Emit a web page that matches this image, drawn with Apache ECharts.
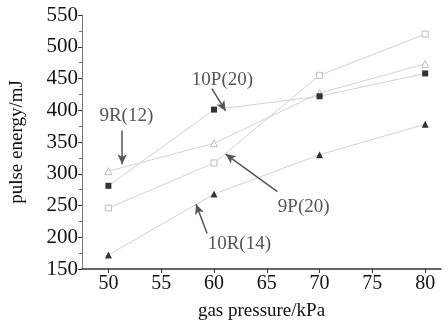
<!DOCTYPE html>
<html lang="en">
<head>
    <meta charset="UTF-8">
    <title>pulse energy vs gas pressure</title>
</head>
<body style="margin:0">
    <div id="main" style="width: 448px;height:326px;"></div>

    <script src="https://cdn.jsdelivr.net/npm/echarts@6/dist/echarts.min.js"></script>
    <script>
        const chart = echarts.init(document.getElementById('main'));

        const pressure = [50, 60, 70, 80];
        const xTicks = [50, 55, 60, 65, 70, 75, 80];
        // pulse energy (mJ) per line
        const r9_12 = [304, 348, 427, 473];
        const p10_20 = [281, 401, 422, 458];
        const p9_20 = [246, 317, 455, 520];
        const r10_14 = [172, 268, 330, 378];

        // annotation text [label, x, y] and arrows [x1, y1, x2, y2] in data units
        const labels = [
            ['9R(12)', 51.7, 391],
            ['10P(20)', 60.8, 448],
            ['9P(20)', 68.5, 247],
            ['10R(14)', 62.4, 189]
        ];
        const arrows = [
            [51.3, 368, 51.3, 315],
            [59.8, 434, 61.1, 399],
            [66.0, 272, 61.1, 331],
            [59.35, 206, 58.3, 252]
        ];

        const font = 'Liberation Serif';

        function pairs(ys) {
            return pressure.map((x, i) => [x, ys[i]]);
        }

        function lineSeries(name, ys, symbol, filled) {
            return {
                name: name,
                type: 'line',
                data: pairs(ys),
                symbol: symbol,
                symbolSize: symbol === 'triangle' ? 7 : 6,
                showAllSymbol: true,
                lineStyle: { color: '#d2d2d2', width: 1 },
                itemStyle: filled
                    ? { color: '#333', borderWidth: 0 }
                    : { color: '#fff', borderColor: '#bbb', borderWidth: 1 },
                z: 3
            };
        }

        const option = {
            animation: false,
            grid: { left: 75, right: 7, top: 15, bottom: 52 },
            xAxis: {
                type: 'value',
                min: 47.5,
                max: 81.5,
                name: 'gas pressure/kPa',
                nameLocation: 'middle',
                nameGap: 33,
                nameTextStyle: { fontFamily: font, fontSize: 19, color: '#111' },
                splitLine: { show: false },
                axisLine: { lineStyle: { color: '#333', width: 1.5 } },
                axisTick: {
                    customValues: xTicks,
                    length: 4,
                    inside: false,
                    lineStyle: { color: '#333' }
                },
                axisLabel: {
                    customValues: xTicks,
                    fontFamily: font,
                    fontSize: 20,
                    color: '#111',
                    margin: 5
                }
            },
            yAxis: {
                type: 'value',
                min: 150,
                max: 550,
                interval: 50,
                name: 'pulse energy/mJ',
                nameLocation: 'middle',
                nameGap: 55,
                nameTextStyle: { fontFamily: font, fontSize: 19, color: '#111' },
                splitLine: { show: false },
                axisLine: { show: true, lineStyle: { color: '#777', width: 1 } },
                axisTick: { length: 4, lineStyle: { color: '#333' } },
                minorTick: { show: true, splitNumber: 2, length: 3, lineStyle: { color: '#777' } },
                axisLabel: {
                    fontFamily: font,
                    fontSize: 21,
                    color: '#111',
                    margin: 4
                }
            },
            series: [
                lineSeries('9R(12)', r9_12, 'triangle', false),
                lineSeries('10P(20)', p10_20, 'rect', true),
                lineSeries('9P(20)', p9_20, 'rect', false),
                lineSeries('10R(14)', r10_14, 'triangle', true),
                {
                    type: 'scatter',
                    data: [],
                    silent: true,
                    markLine: {
                        silent: true,
                        symbolSize: [7, 10],
                        lineStyle: { color: '#555', width: 1.5, type: 'solid' },
                        label: { show: false },
                        data: arrows.map(a => [
                            { coord: [a[0], a[1]], symbol: 'none' },
                            { coord: [a[2], a[3]], symbol: 'arrow' }
                        ])
                    },
                    markPoint: {
                        silent: true,
                        symbol: 'circle',
                        symbolSize: 0,
                        label: {
                            show: true,
                            position: 'inside',
                            formatter: '{b}',
                            fontFamily: font,
                            fontSize: 19,
                            color: '#555'
                        },
                        data: labels.map(l => ({ name: l[0], coord: [l[1], l[2]] }))
                    }
                }
            ]
        };

        chart.setOption(option);
    </script>
</body>
</html>
